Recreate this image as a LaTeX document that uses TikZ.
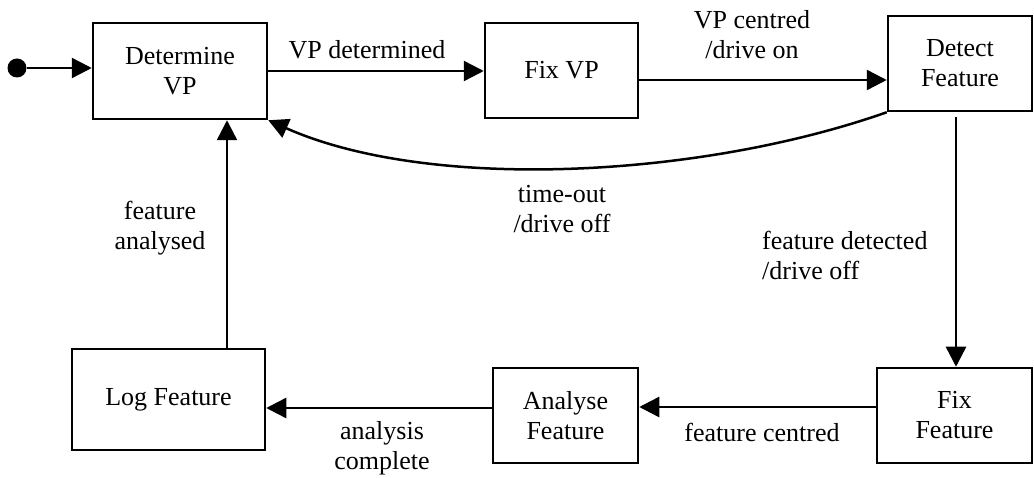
\documentclass[tikz,border=0pt]{standalone}
\usepackage{fontspec}
\setmainfont{Liberation Serif}
\usetikzlibrary{arrows.meta}

\begin{document}
\begin{tikzpicture}[x=1pt,y=-1pt,
    every node/.style={font=\fontsize{26}{30}\selectfont},
    state/.style={draw,line width=2.5pt,align=center,inner sep=0pt},
    lbl/.style={align=center,inner sep=0pt},
    trans/.style={line width=2.5pt,-{Triangle[length=20pt,width=20pt]}}]
                \useasboundingbox (0,0) rectangle (1034,478);
                % states
                \node[state,minimum width=174pt,minimum height=96pt]  (detvp)   at (180,71)      {Determine\\VP};
                \node[state,minimum width=153pt,minimum height=95pt]  (fixvp)   at (561.5,70.5)  {Fix VP};
                \node[state,minimum width=144pt,minimum height=95pt]  (detect)  at (960,63.5)    {Detect\\Feature};
                \node[state,minimum width=155pt,minimum height=95pt]  (fixfeat) at (954.5,415.5) {Fix\\Feature};
                \node[state,minimum width=145pt,minimum height=95pt]  (analyse) at (565.5,415.5) {Analyse\\Feature};
                \node[state,minimum width=193pt,minimum height=101pt] (logfeat) at (168.5,399.5) {Log Feature};
                % initial state
                \node[circle,fill,inner sep=0pt,minimum size=19pt] (start) at (17,68) {};

                % transitions
                \draw [trans] (start) -- (start -| detvp.west);
                \draw [trans] (detvp.east) -- (detvp.east -| fixvp.west);
                \draw [trans] ([yshift=-9.5pt]fixvp.east) -- ([yshift=-9.5pt]fixvp.east -| detect.west);
                \draw [trans] (detect.south west) .. controls (700,178) and (430,192) .. (detvp.south east);
                \draw [trans] ([xshift=-4pt,yshift=-5pt]detect.south) -- ([xshift=-4pt]detect.south |- fixfeat.north);
                \draw [trans] ([yshift=8.5pt]fixfeat.west) -- ([yshift=8.5pt]fixfeat.west -| analyse.east);
                \draw [trans] ([yshift=7.5pt]analyse.west) -- ([yshift=7.5pt]analyse.west -| logfeat.east);
                \draw [trans] ([xshift=58.5pt]logfeat.north) -- ([xshift=58.5pt]logfeat.north |- detvp.south);

                % labels
                \node[lbl] (vpdet)   at (367,50)  {VP determined};
                \node[lbl] (vpcent)  at (752,35)  {VP centred\\/drive on};
                \node[lbl] (timeout) at (562,209) {time-out\\/drive off};
                \node[lbl,align=left,anchor=west] (featdet) at (762,255) {feature detected\\/drive off};
                \node[lbl] (featcent) at (762,432) {feature centred};
                \node[lbl] (anacomp)  at (382,448) {analysis\\complete};
                \node[lbl] (featana)  at (160,228) {feature\\analysed};
              \end{tikzpicture}
\end{document}
